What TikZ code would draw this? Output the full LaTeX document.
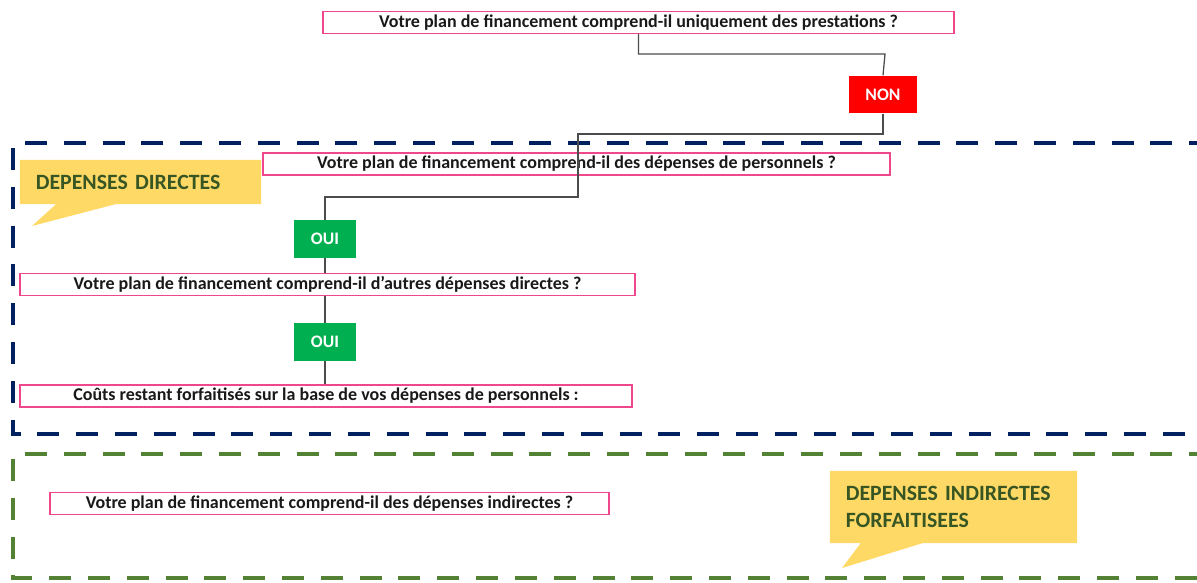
\documentclass[tikz,border=0pt]{standalone}
\usepackage{fontspec}
\setmainfont{Carlito}
\usetikzlibrary{shapes.callouts}
\definecolor{qpink}{RGB}{240,70,140}
\definecolor{nonred}{RGB}{255,0,0}
\definecolor{ouigreen}{RGB}{0,176,80}
\definecolor{navyframe}{RGB}{0,32,96}
\definecolor{greenframe}{RGB}{84,130,53}
\definecolor{bubblefill}{RGB}{255,217,102}
\definecolor{bubbletext}{RGB}{55,86,35}
\tikzset{
    qbox/.style={draw=qpink,line width=1.1pt,minimum height=0.54cm,inner sep=0pt,font=\fontsize{12.8}{14}\selectfont\bfseries,text=black!90},
    tag/.style={minimum width=1.55cm,minimum height=0.94cm,inner sep=0pt,text=white,font=\fontsize{12.5}{14}\selectfont\bfseries},
    bubble/.style={rectangle callout,fill=bubblefill,text=bubbletext,align=left,inner xsep=0.4cm,inner ysep=0pt,font=\fontsize{15.5}{19.8}\selectfont\bfseries},
    link/.style={draw=black!70,line width=0.9pt},
    frame/.style={line width=2.9pt,dash pattern=on 0.55cm off 0.42cm}
}
\begin{document}
\begin{tikzpicture}[x=0.025cm,y=-0.025cm]
    \clip (0,0) rectangle (1197,583);
    \fill[white] (0,0) rectangle (1197,583);
    % dashed zones
    \draw[frame,navyframe] (1250,143) -- (13,143) -- (13,434) -- (1250,434);
    \draw[frame,greenframe] (1250,454) -- (13,454) -- (13,578) -- (1250,578);
    % callouts
    \node[bubble,text width=5.23cm,minimum height=1.1cm,callout absolute pointer={(32,226)},callout pointer width=1.5cm] (direct) at (140.5,182) {DEPENSES DIRECTES};
    \node[bubble,text width=5.38cm,minimum height=1.8cm,callout absolute pointer={(842,568)},callout pointer width=1.55cm] (indirect) at (953.5,507) {DEPENSES INDIRECTES\\FORFAITISEES};
    % questions
    \node[qbox,minimum width=15.78cm] (q1) at (638.5,22.5) {Votre plan de financement comprend-il uniquement des prestations ?};
    \node[tag,fill=nonred,minimum width=1.7cm] (non) at (883,94.5) {NON};
    \node[qbox,minimum width=15.68cm] (q2) at (576.5,164) {Votre plan de financement comprend-il des dépenses de personnels ?};
    \node[tag,fill=ouigreen] (oui1) at (325,239) {OUI};
    \node[qbox,minimum width=15.38cm] (q3) at (327.5,284.5) {Votre plan de financement comprend-il d’autres dépenses directes ?};
    \node[tag,fill=ouigreen] (oui2) at (325,342) {OUI};
    \node[qbox,minimum width=15.3cm] (q4) at (326,396) {Coûts restant forfaitisés sur la base de vos dépenses de personnels :};
    \node[qbox,minimum width=13.98cm] (q5) at (329.5,503.5) {Votre plan de financement comprend-il des dépenses indirectes ?};
    % connectors
    \draw[link] (q1.south) |- (885,54) -- (non.north);
    \draw[link] (non.south) |- (578,134) -- (578,197) -| (oui1.north);
    \draw[link] (oui1.south) -- (oui1.south |- q3.north);
    \draw[link] (oui1.south |- q3.south) -- (oui2.north);
    \draw[link] (oui2.south) -- (oui2.south |- q4.north);
\end{tikzpicture}
\end{document}
